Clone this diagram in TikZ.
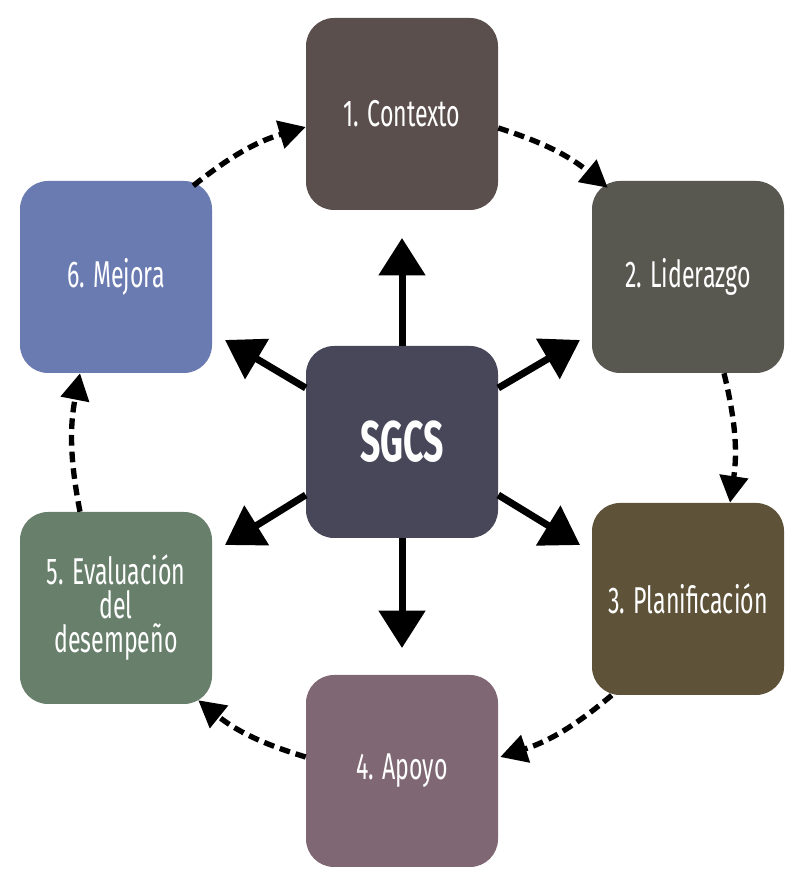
\documentclass[tikz,border=0pt]{standalone}
\usepackage{fontspec}
\setmainfont{Fira Sans}[FakeStretch=0.62]
\usetikzlibrary{arrows.meta,calc}
\definecolor{ctxcol}{HTML}{5B4F4D}
\definecolor{lidcol}{HTML}{585851}
\definecolor{placol}{HTML}{5E5339}
\definecolor{apocol}{HTML}{7F6873}
\definecolor{evacol}{HTML}{677F6B}
\definecolor{mejcol}{HTML}{6A7BB1}
\definecolor{sgcscol}{HTML}{48475A}
\tikzset{
  stage/.style={rectangle, rounded corners=21pt, minimum width=144pt, minimum height=144pt,
    inner sep=0pt, text=white, font=\fontsize{28}{25.5}\selectfont, align=center},
  hub/.style={stage, font=\fontsize{43}{43}\selectfont\bfseries},
  radial/.style={line width=5.25pt, -{Triangle[length=28pt,width=34pt]}},
  cycle/.style={line width=4pt, dash pattern=on 8pt off 4.5pt,
    -{Triangle[length=20pt,width=21pt]}, bend left=11}
}
\begin{document}
\begin{tikzpicture}[x=0.75pt,y=0.75pt]
\useasboundingbox (0,0) rectangle (800,887);

% central hub and the six stages
\node[hub, fill=sgcscol] (c) at (402,445) {SGCS};
\node[stage, fill=ctxcol] (n1) at (402,773) {1. Contexto};
\node[stage, fill=lidcol] (n2) at (688,610) {2. Liderazgo};
\node[stage, fill=placol] (n3) at (688,288) {3. Planificación};
\node[stage, fill=apocol] (n4) at (402,116) {4. Apoyo};
\node[stage, fill=evacol] (n5) at (116,279) {5. Evaluación\\del\\desempeño};
\node[stage, fill=mejcol] (n6) at (116,610) {6. Mejora};

% tips of the radial arrows
\coordinate (tu) at (402,649);
\coordinate (tru) at (580,547);
\coordinate (tlu) at (225,547);
\coordinate (tld) at (225,342);
\coordinate (trd) at (580,342);
\coordinate (td) at (402,239);

\draw[radial] (c.north) -- (tu);
\draw[radial] ($(c.east)+(0,54)$) -- (tru);
\draw[radial] ($(c.west)+(0,54)$) -- (tlu);
\draw[radial] ($(c.west)+(0,-53)$) -- (tld);
\draw[radial] ($(c.east)+(0,-53)$) -- (trd);
\draw[radial] (c.south) -- (td);

% dashed cycle between the stages
\draw[cycle] ($(n1.east)+(0,-14)$) to ($(n2.north west)+(16,-7)$);
\draw[cycle] ($(n2.south)+(36,0)$) to ($(n3.north)+(42,0)$);
\draw[cycle] ($(n3.south west)+(20,0)$) to ($(n4.east)+(2,14)$);
\draw[cycle] ($(n4.west)+(0,14)$) to ($(n5.south east)+(-14,4)$);
\draw[cycle] ($(n5.north)+(-36,0)$) to ($(n6.south)+(-36,0)$);
\draw[cycle] ($(n6.north east)+(-19,-5)$) to ($(n1.west)+(0,-13)$);
\end{tikzpicture}
\end{document}
